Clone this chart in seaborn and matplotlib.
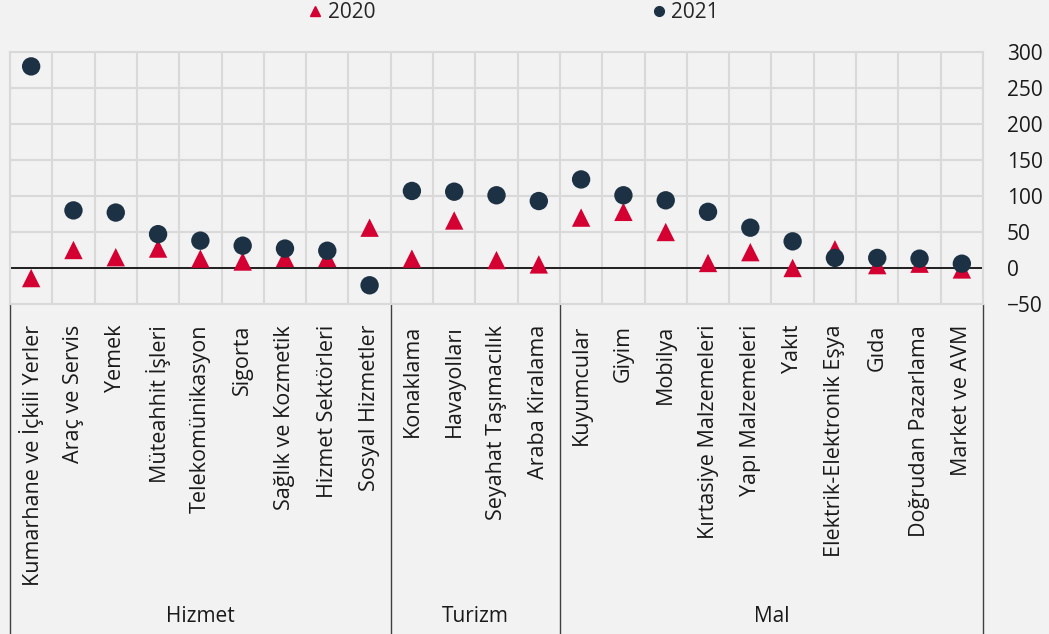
import matplotlib
matplotlib.use("Agg")
import matplotlib.pyplot as plt
import matplotlib.transforms as mtransforms
from matplotlib.lines import Line2D
import seaborn as sns
import pandas as pd

kategoriler = ["Kumarhane ve İçkili Yerler", "Araç ve Servis", "Yemek", "Müteahhit İşleri",
               "Telekomünikasyon", "Sigorta", "Sağlık ve Kozmetik", "Hizmet Sektörleri",
               "Sosyal Hizmetler", "Konaklama", "Havayolları", "Seyahat Taşımacılık",
               "Araba Kiralama", "Kuyumcular", "Giyim", "Mobilya", "Kırtasiye Malzemeleri",
               "Yapı Malzemeleri", "Yakıt", "Elektrik-Elektronik Eşya", "Gıda",
               "Doğrudan Pazarlama", "Market ve AVM"]
deger_2020 = [-14, 25, 15, 27, 13, 9, 14, 14, 56, 13, 66, 11, 5, 70, 78, 50, 7, 22, 0, 26, 4, 6, -2]
deger_2021 = [280, 80, 77, 47, 38, 31, 27, 24, -24, 107, 106, 101, 93, 123, 101, 94, 78, 56, 37, 14, 14, 13, 6]
gruplar = ["Hizmet", "Turizm", "Mal"]
grup_boyut = [9, 4, 10]
y_ticks = [-50, 0, 50, 100, 150, 200, 250, 300]

KIRMIZI = "#d50032"
LACIVERT = "#1c3144"
ZEMIN = "#f2f2f2"
IZGARA = "#d9d9d9"

sns.set_style("white")
plt.rcParams["font.family"] = ["Open Sans", "DejaVu Sans"]

df = pd.DataFrame({"kategori": kategoriler * 2,
                   "deger": deger_2020 + deger_2021,
                   "yil": ["2020"] * len(kategoriler) + ["2021"] * len(kategoriler)})

fig = plt.figure(figsize=(10.49, 6.34), dpi=100, facecolor=ZEMIN)
ax = fig.add_axes([10 / 1049, 1 - 304 / 634, 973 / 1049, 252 / 634])
ax.set_facecolor(ZEMIN)

sns.scatterplot(data=df, x="kategori", y="deger", hue="yil", style="yil",
                palette={"2020": KIRMIZI, "2021": LACIVERT},
                markers={"2020": "^", "2021": "o"}, s=175, linewidth=0,
                legend=False, ax=ax, zorder=3)

ax.axhline(0, color="black", lw=1.2, zorder=2)

ax.set_xlim(-0.5, len(kategoriler) - 0.5)
ax.set_ylim(-50, 300)
ax.set_yticks(y_ticks)
ax.set_xticks(range(len(kategoriler)))
ax.set_xticklabels(kategoriler, rotation=90, fontsize=15.5, color="#1a1a1a")
ax.set_xticks([i + 0.5 for i in range(-1, len(kategoriler))], minor=True)
ax.yaxis.tick_right()
ax.tick_params(axis="y", length=0, pad=17, labelsize=15, labelcolor="#1a1a1a")
ax.tick_params(axis="x", which="both", length=0, pad=15)
ax.grid(axis="y", color=IZGARA, lw=1.5)
ax.grid(axis="x", which="minor", color=IZGARA, lw=1.5)
ax.grid(axis="x", which="major", visible=False)
for s in ax.spines.values():
    s.set_color(IZGARA)
    s.set_linewidth(1.5)
ax.set_xlabel("")
ax.set_ylabel("")

# grup ayiricilari ve etiketleri
trans = mtransforms.blended_transform_factory(ax.transData, ax.transAxes)
alt = -330 / 252
sinirlar = [-0.5]
for b in grup_boyut:
    sinirlar.append(sinirlar[-1] + b)
for x in sinirlar:
    ax.plot([x, x], [0, alt], color="#404040", lw=1, transform=trans, clip_on=False)
for g, a, b in zip(gruplar, sinirlar[:-1], sinirlar[1:]):
    ax.text((a + b) / 2, -313 / 252, g, transform=trans, ha="center", va="center",
            fontsize=15, color="#1a1a1a")

handles = [Line2D([], [], marker="^", ls="none", color=KIRMIZI, markersize=7, label="2020"),
           Line2D([], [], marker="o", ls="none", color=LACIVERT, markersize=7, label="2021")]
fig.legend(handles=handles, loc="center", bbox_to_anchor=(0.49, 1 - 13 / 634), ncol=2,
           frameon=False, fontsize=15, handlelength=0.6, handletextpad=0.3,
           columnspacing=13.3, borderaxespad=0)

fig.savefig("out.png", dpi=100, facecolor=ZEMIN)
